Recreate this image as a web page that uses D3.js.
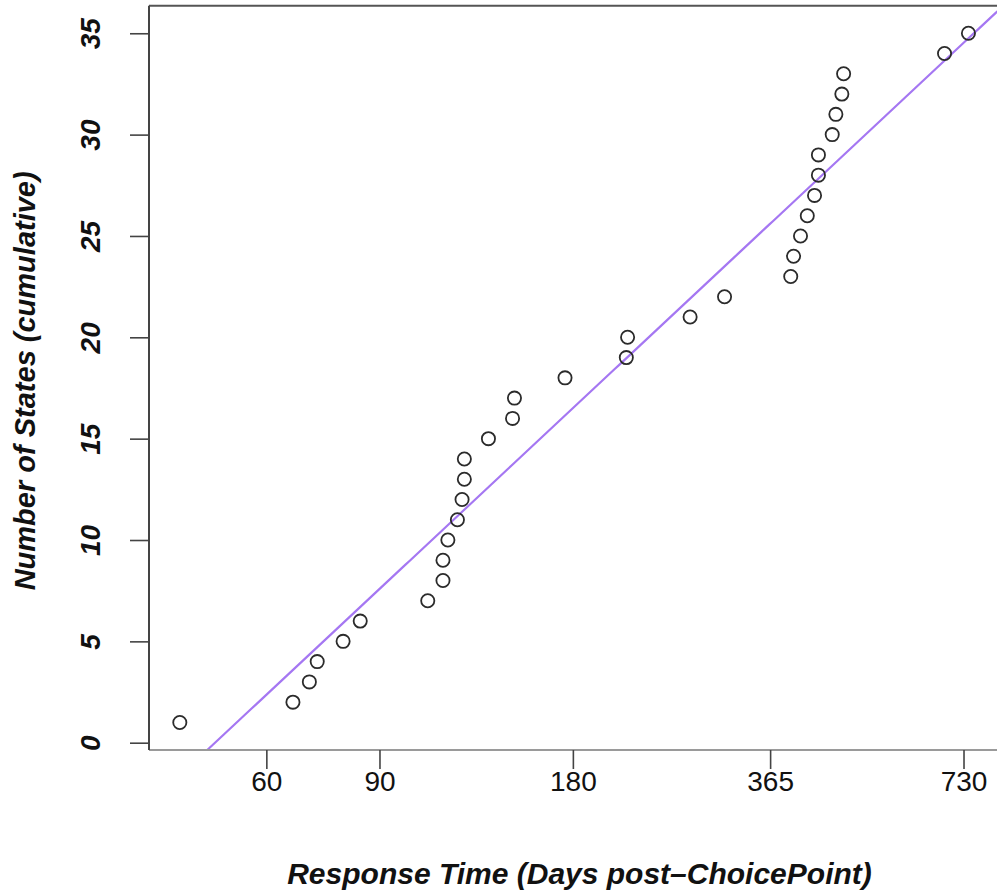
<!DOCTYPE html>
<html>
<head>
<meta charset="utf-8">
<script src="https://cdn.jsdelivr.net/npm/d3@7"></script>
<style>
  html, body { margin: 0; padding: 0; background: #fff; }
  svg { display: block; }
</style>
</head>
<body>
<svg id="chart" width="997" height="893"></svg>
<script>
// Days after the ChoicePoint breach at which each state responded
const responseDays = [44, 66, 70, 72, 79, 84, 107, 113, 113, 115, 119, 121, 122, 122,
  133, 145, 146, 175, 218, 219, 274, 310, 393, 397, 407, 417, 428, 434, 434,
  456, 462, 472, 475, 682, 743];
// Cumulative number of states
const stateCounts = [1, 2, 3, 4, 5, 6, 7, 8, 9, 10, 11, 12, 13, 14, 15, 16, 17, 18,
  19, 20, 21, 22, 23, 24, 25, 26, 27, 28, 29, 30, 31, 32, 33, 34, 35];
// Fitted line: states = intercept + slope * ln(days)
const fitIntercept = -50.33;
const fitSlope = 12.87;

const xTicks = [60, 90, 180, 365, 730];
const yTicks = [0, 5, 10, 15, 20, 25, 30, 35];

const xTitle = "Response Time (Days post\u2013ChoicePoint)";
const yTitle = "Number of States (cumulative)";

const plot = { left: 149, right: 1004, top: 5.7, bottom: 750 };
const font = "'Liberation Sans', Arial, Helvetica, sans-serif";

const svg = d3.select("#chart");

const x = d3.scaleLog().domain([39.4, 844]).range([plot.left, plot.right]);
const y = d3.scaleLinear().domain([-0.36, 36.36]).range([plot.bottom, plot.top]);

svg.append("defs").append("clipPath").attr("id", "plotClip")
  .append("rect")
  .attr("x", plot.left).attr("y", plot.top)
  .attr("width", plot.right - plot.left).attr("height", plot.bottom - plot.top);

// Regression line on the log scale
const lineData = d3.range(0, 201).map(i => {
  const d = x.domain()[0] * Math.pow(x.domain()[1] / x.domain()[0], i / 200);
  return [d, fitIntercept + fitSlope * Math.log(d)];
});
svg.append("path")
  .datum(lineData)
  .attr("clip-path", "url(#plotClip)")
  .attr("fill", "none")
  .attr("stroke", "#a577f2")
  .attr("stroke-width", 2.2)
  .attr("d", d3.line().x(d => x(d[0])).y(d => y(d[1])));

// Points
svg.append("g")
  .selectAll("circle")
  .data(responseDays.map((d, i) => [d, stateCounts[i]]))
  .join("circle")
  .attr("cx", d => x(d[0]))
  .attr("cy", d => y(d[1]))
  .attr("r", 6.6)
  .attr("fill", "none")
  .attr("stroke", "#2b2b2b")
  .attr("stroke-width", 1.8);

// Plot box
svg.append("line").attr("x1", plot.left).attr("x2", plot.right + 20)
  .attr("y1", plot.top).attr("y2", plot.top)
  .attr("stroke", "#555").attr("stroke-width", 2);
svg.append("line").attr("x1", plot.left).attr("x2", plot.right + 20)
  .attr("y1", plot.bottom).attr("y2", plot.bottom)
  .attr("stroke", "#9a9a9a").attr("stroke-width", 2);
svg.append("line").attr("x1", plot.left).attr("x2", plot.left)
  .attr("y1", plot.top).attr("y2", plot.bottom)
  .attr("stroke", "#444").attr("stroke-width", 2);
svg.append("line").attr("x1", plot.right).attr("x2", plot.right)
  .attr("y1", plot.top).attr("y2", plot.bottom)
  .attr("stroke", "#444").attr("stroke-width", 2);

// X axis
const xAxis = d3.axisBottom(x).tickValues(xTicks).tickFormat(d3.format("d"))
  .tickSize(19).tickPadding(2);
const gx = svg.append("g").attr("transform", `translate(0,${plot.bottom})`).call(xAxis);
gx.select(".domain").remove();
gx.selectAll(".tick line").attr("stroke", "#444").attr("stroke-width", 1.6);
gx.selectAll(".tick text")
  .attr("fill", "#111")
  .style("font-family", font)
  .style("font-size", "28px");

// Y axis (labels parallel to the axis)
const yAxis = d3.axisLeft(y).tickValues(yTicks).tickSize(19).tickPadding(0);
const gy = svg.append("g").attr("transform", `translate(${plot.left},0)`).call(yAxis);
gy.select(".domain").remove();
gy.selectAll(".tick line").attr("stroke", "#444").attr("stroke-width", 1.6);
gy.selectAll(".tick text")
  .attr("x", 0).attr("dy", 0)
  .attr("transform", "translate(-59,0) rotate(-90)")
  .attr("text-anchor", "middle")
  .attr("dominant-baseline", "central")
  .attr("fill", "#111")
  .style("font-family", font)
  .style("font-size", "28px")
  .style("font-weight", "bold")
  .style("font-style", "italic");

// Axis titles
svg.append("text")
  .attr("x", (plot.left + plot.right) / 2 + 3)
  .attr("y", 884)
  .attr("text-anchor", "middle")
  .attr("fill", "#111")
  .style("font-family", font)
  .style("font-size", "30px")
  .style("font-weight", "bold")
  .style("font-style", "italic")
  .text(xTitle);

svg.append("text")
  .attr("transform", `translate(35,${(plot.top + plot.bottom) / 2 + 3}) rotate(-90)`)
  .attr("text-anchor", "middle")
  .attr("fill", "#111")
  .style("font-family", font)
  .style("font-size", "29px")
  .style("font-weight", "bold")
  .style("font-style", "italic")
  .text(yTitle);
</script>
</body>
</html>
